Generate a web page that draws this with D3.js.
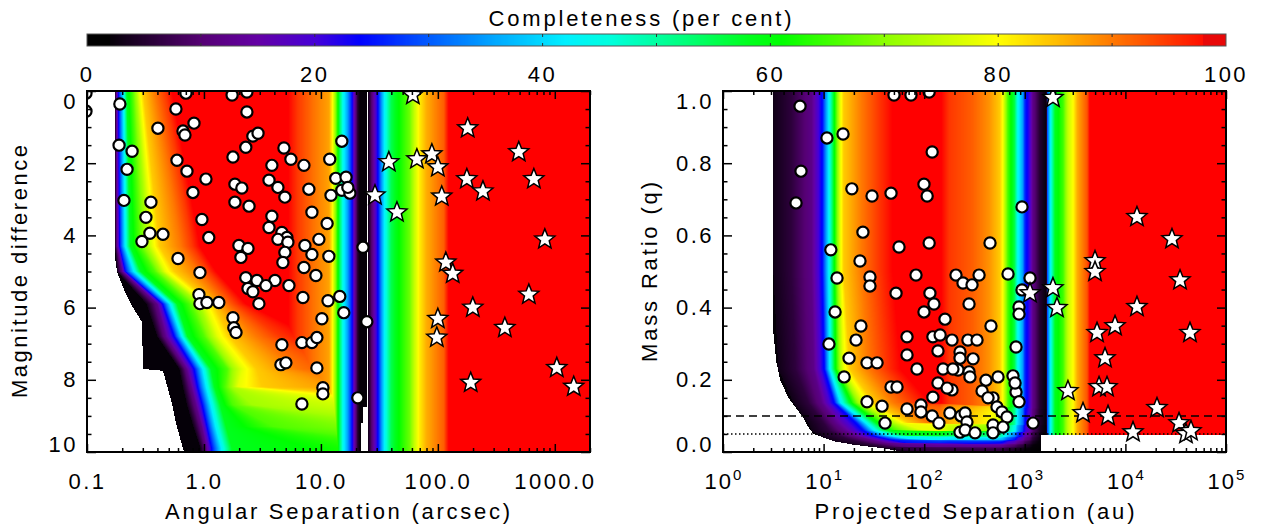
<!DOCTYPE html>
<html>
<head>
<meta charset="utf-8">
<script src="https://cdn.jsdelivr.net/npm/d3@7"></script>
<style>
  body { margin: 0; background: #fff; }
  svg text { font-family: "Liberation Sans", Arial, sans-serif; fill: #000; }
</style>
</head>
<body>
<svg id="chart" width="1262" height="529"></svg>
<script>
// ---------------- colour scale (completeness, per cent) ----------------
const cmapStops  = [0, 2, 6, 10, 15, 20, 24, 30, 36, 42, 46, 52, 58, 61, 70, 80, 85, 90, 95, 99, 100];
const cmapColors = ["#000000","#050008","#2d003c","#550073","#6400a5","#4600d7","#0000ff","#005aff",
                    "#00aaff","#00f0ff","#00ffdc","#00ff82","#00ff1e","#00ff00","#8cff00","#ffff00",
                    "#ffbe00","#ff7800","#ff3700","#ff0000","#ff0000"];
const colorbarTicks = [0, 20, 40, 60, 80, 100];

// ---------------- axis ticks ----------------
const sepMajor = [0.1, 1, 10, 100, 1000];
const sepLabels = ["0.1", "1.0", "10.0", "100.0", "1000.0"];
const dmMajor = [0, 2, 4, 6, 8, 10];
const auMajor = [1, 10, 100, 1000, 10000, 100000];
const auExponents = ["0", "1", "2", "3", "4", "5"];
const qMajor = [0, 0.2, 0.4, 0.6, 0.8, 1.0];

// ---------------- left panel: completeness map (angular separation vs magnitude difference) ----------------
// completeness levels and, for each magnitude-difference row, log10(separation / arcsec) where each level is reached
const leftLevels = [3, 12, 25, 42, 58, 66, 72, 78, 84, 90, 95, 100];
const leftRowDm = [0, 4.3, 5.0, 5.9, 6.8, 7.7, 8.2, 8.7, 9.3, 9.9, 10];
const leftRowLogSep = [
  [-0.761, -0.75, -0.73, -0.69, -0.66, -0.61, -0.58, -0.555, -0.52, -0.42, -0.33, -0.26],
  [-0.761, -0.745, -0.72, -0.675, -0.63, -0.55, -0.49, -0.44, -0.38, -0.2, -0.1, -0.02],
  [-0.744, -0.70, -0.67, -0.60, -0.54, -0.42, -0.37, -0.33, -0.25, -0.06, 0.04, 0.12],
  [-0.49, -0.40, -0.35, -0.29, -0.23, -0.12, -0.04, 0.01, 0.08, 0.18, 0.28, 0.38],
  [-0.40, -0.33, -0.25, -0.19, -0.14, 0.0, 0.06, 0.12, 0.22, 0.45, 0.65, 1.0],
  [-0.21, -0.15, -0.08, -0.01, 0.06, 0.2, 0.25, 0.33, 0.45, 0.8, 1.3, 1.8],
  [-0.18, -0.11, -0.05, 0.02, 0.09, 0.18, 0.24, 0.29, 0.5, 1.5, 2.5, 3.5],
  [-0.145, -0.07, -0.01, 0.06, 0.14, 0.25, 0.42, 1.6, 2.5, 3.0, 3.5, 4.0],
  [-0.09, -0.02, 0.03, 0.1, 0.19, 0.6, 1.8, 2.5, 3.0, 3.5, 4.0, 4.5],
  [-0.03, 0.02, 0.07, 0.15, 0.24, 2.0, 2.5, 3.0, 3.5, 4.0, 4.5, 5.0],
  [-0.03, 0.02, 0.07, 0.15, 0.24, 2.0, 2.5, 3.0, 3.5, 4.0, 4.5, 5.0]
];
// inner limit of the survey (no data to the left)
const leftEdgeDm = [0, 4.6, 5.0, 5.5, 6.0, 6.4, 7.7, 7.75, 8.7, 9.2, 10];
const leftEdgeLogSep = [-0.761, -0.761, -0.744, -0.684, -0.607, -0.53, -0.521, -0.35, -0.27, -0.24, -0.171];
// separation-only band structure at wide separations
const leftBandLogSep = [0.70, 0.80, 0.95, 1.07, 1.10, 1.13, 1.16, 1.19, 1.23, 1.265, 1.29, 1.315, 1.335, 1.39,
                        1.41, 1.45, 1.49, 1.52, 1.55, 1.6, 1.68, 1.76, 1.80, 1.84, 1.90, 2.05, 2.08, 2.1];
const leftBandValue = [100, 95, 90, 87, 80, 68, 55, 44, 35, 25, 14, 5, 2, 2,
                       4, 14, 25, 35, 44, 55, 62, 68, 75, 81, 86, 92, 97, 100];
const leftGapDm = [0, 8.75, 9.2];
const leftGapStart = [1.392, 1.36, 1.345];
const leftGapEnd = 1.405;

// ---------------- right panel: completeness map (projected separation vs mass ratio) ----------------
const rightLevels = [3, 6, 12, 25, 42, 58, 66, 72, 78, 84, 90, 95, 100];
const rightRowQ = [0, 0.005, 0.015, 0.025, 0.035, 0.045, 0.06, 0.08, 0.136, 0.23, 0.5, 1.0];
const rightRowLogAu = [
  [1.7, 1.9, null, null, null, null, null, null, null, null, null, null, null],
  [1.7, 1.9, null, null, null, null, null, null, null, null, null, null, null],
  [1.42, 1.6, 1.85, null, null, null, null, null, null, null, null, null, null],
  [1.17, 1.4, 1.6, 1.85, null, null, null, null, null, null, null, null, null],
  [1.04, 1.25, 1.45, 1.65, 1.9, null, null, null, null, null, null, null, null],
  [0.96, 1.15, 1.3, 1.5, 1.65, 1.85, null, null, null, null, null, null, null],
  [0.88, 1.05, 1.2, 1.4, 1.5, 1.62, 1.72, 1.85, 2.0, null, null, null, null],
  [0.85, 1.0, 1.12, 1.33, 1.42, 1.52, 1.6, 1.68, 1.76, 1.85, 2.05, null, null],
  [0.70, 0.85, 0.98, 1.11, 1.17, 1.26, 1.31, 1.35, 1.41, 1.5, 1.7, 1.9, 2.1],
  [0.55, 0.72, 0.90, 1.01, 1.06, 1.11, 1.14, 1.165, 1.2, 1.26, 1.45, 1.62, 1.8],
  [0.50, 0.68, 0.88, 0.99, 1.05, 1.10, 1.125, 1.145, 1.165, 1.2, 1.38, 1.55, 1.72],
  [0.50, 0.68, 0.88, 0.99, 1.05, 1.10, 1.125, 1.145, 1.165, 1.2, 1.38, 1.55, 1.72]
];
const rightEdgeQ = [0, 0.01, 0.02, 0.03, 0.04, 0.05, 0.07, 0.097, 0.12, 0.15, 0.2, 0.25, 0.34, 1.0];
const rightEdgeLogAu = [1.8, 1.6, 1.3, 1.1, 1.0, 0.9, 0.845, 0.795, 0.73, 0.65, 0.567, 0.53, 0.497, 0.497];
const rightBandLogAu = [2.15, 2.25, 2.48, 2.65, 2.75, 2.78, 2.83, 2.9, 2.93, 2.98, 3.0, 3.05, 3.08, 3.15, 3.215,
                        3.222, 3.24, 3.26, 3.3, 3.38, 3.43, 3.48, 3.52, 3.62, 3.65];
const rightBandValue = [100, 95, 92, 88, 84, 80, 66, 55, 44, 35, 27, 20, 12, 5, 2,
                        28, 36, 45, 58, 65, 75, 80, 86, 93, 100];
const rightJumpLogAu = 3.22;
const rightStripLogAu = 3.16;
const rightStripQ = 0.048;
const qDashed = 0.1;
const qDotted = 0.05;

// ---------------- companions ----------------
const leftCircleSep = [0.098,0.098,0.191,0.576,0.702,1.74,2.33,2.33,0.404,0.822,
  0.662,0.688,2.62,2.90,0.188,0.243,2.28,4.83,5.54,1.77,
  0.588,3.81,7.16,11.9,0.220,0.716,1.04,1.84,2.11,3.60,
  4.29,4.92,7.89,12.2,0.805,0.207,0.352,1.84,2.43,8.38,
  0.319,0.961,3.81,3.60,11.3,4.64,5.12,4.29,5.22,4.92,
  4.73,9.61,0.345,0.446,0.295,1.10,1.99,2.38,2.07,7.30,
  8.38,11.7,0.600,0.924,7.16,2.28,2.84,4.05,9.06,3.39,
  5.33,2.38,2.62,0.906,0.924,1.06,1.34,2.95,7.02,11.5,
  1.77,1.80,1.88,10.2,4.64,6.88,8.38,9.24,4.55,5.02,
  9.24,10.4,10.4,6.88,15.1,13.4,16.4,15.1,17.7,17.0,
  14.5,15.7,24.7,20.7,22.9];
const leftCircleDm = [0.06,0.56,0.36,0.5,0.06,0.11,0.03,0.58,1.03,0.89,
  1.11,1.22,1.25,1.17,1.5,1.67,1.56,1.58,1.89,1.83,
  1.92,2.06,2.06,1.89,2.17,2.22,2.44,2.58,2.69,2.47,
  2.67,2.94,2.72,2.89,2.81,3.03,3.08,3.08,3.19,3.36,
  3.5,3.56,3.47,3.78,3.67,3.92,4.06,4.11,4.19,4.47,
  4.75,4.11,3.94,3.97,4.17,4.06,4.28,4.36,4.61,4.28,
  4.53,4.58,4.64,5.03,4.89,5.17,5.25,5.25,5.11,5.39,
  5.39,5.47,5.56,5.64,5.89,5.86,5.86,5.89,5.72,5.81,
  6.28,6.56,6.69,6.31,7.03,6.97,6.97,6.83,7.58,7.53,
  7.67,8.22,8.39,8.67,1.39,2.42,2.39,2.75,2.83,2.67,
  5.69,6.14,6.39,8.5,4.33];
const leftStarSep = [61.1,38.1,66.2,88.9,100,180,177,243,108,29.0,44.7,492,662,822,117,134,600,199,100,98,374,191,1040,1452];
const leftStarDm = [0.11,1.97,1.89,1.75,2.11,1.03,2.44,2.78,2.92,2.89,3.36,1.69,2.44,4.11,4.75,5.06,5.64,6.0,6.31,6.83,6.56,8.08,7.67,8.19];

const rightCircleAu = [5.83,5.96,5.32,10.8,15.6,50.1,73.9,112,120,19.1,
  30.3,46.8,99.5,107,24.6,11.8,23.0,56.2,112,13.6,
  28.9,28.9,82.9,207,938,451,351,681,1127,52.5,
  13.0,114,125,99.5,161,23.5,21.0,11.3,67.5,122,
  189,17.9,27.0,34.0,67.5,137,227,16.0,84.8,154,
  217,46.8,53.7,137,122,189,27.0,38.1,67.5,92.9,
  92.9,120,180,140,40.8,232,227,243,299,938,
  279,876,876,461,144,272,335,818,306,227,
  193,279,285,411,542,763,169,376,483,818,
  876,431,529,593,665,255,266,255,320,483,
  483,607,1208,800];
const rightCircleQ = [0.958,0.778,0.690,0.870,0.881,0.989,0.989,0.997,0.831,0.729,
  0.709,0.717,0.742,0.709,0.609,0.560,0.529,0.568,0.579,0.482,
  0.485,0.460,0.490,0.490,0.679,0.579,0.490,0.493,0.482,0.440,
  0.388,0.440,0.410,0.388,0.368,0.349,0.310,0.299,0.319,0.319,
  0.310,0.260,0.247,0.247,0.269,0.280,0.277,0.208,0.230,0.230,
  0.227,0.180,0.180,0.191,0.152,0.172,0.139,0.127,0.119,0.130,
  0.111,0.100,0.108,0.080,0.080,0.100,0.055,0.468,0.463,0.449,
  0.410,0.402,0.382,0.349,0.324,0.310,0.310,0.291,0.258,0.260,
  0.230,0.222,0.208,0.199,0.208,0.211,0.177,0.169,0.150,0.166,
  0.139,0.150,0.125,0.111,0.097,0.108,0.083,0.061,0.053,0.075,
  0.053,0.069,0.080,0.191];
const rightStarAu = [1905,13030,29040,4988,4988,34910,1127,1905,2089,13030,7888,5224,43850,6270,5470,6565,2685,20610,3790,6718,34120,11900,40000,44870];
const rightStarQ = [0.981,0.651,0.590,0.529,0.499,0.476,0.440,0.454,0.399,0.402,0.349,0.330,0.330,0.260,0.180,0.180,0.169,0.122,0.108,0.100,0.080,0.055,0.050,0.058];

// ---------------- layout ----------------
const svg = d3.select("#chart");
const leftBox = {x0: 87, x1: 590, y0: 91, y1: 452};
const rightBox = {x0: 723, x1: 1226, y0: 91, y1: 452};
const bar = {x0: 87, x1: 1226, y0: 34, y1: 46};

const xL = d3.scaleLog().domain([0.1, 2000]).range([leftBox.x0, leftBox.x1]);
const yL = d3.scaleLinear().domain([0, 10]).range([leftBox.y0, leftBox.y1]);
const xR = d3.scaleLog().domain([1, 1e5]).range([rightBox.x0, rightBox.x1]);
const yR = d3.scaleLinear().domain([0, 1]).range([rightBox.y1, rightBox.y0]);
const xBar = d3.scaleLinear().domain([0, 100]).range([bar.x0, bar.x1]);

const cmap = d3.scaleLinear().domain(cmapStops).range(cmapColors).interpolate(d3.interpolateRgb).clamp(true);
const lut = d3.range(0, 1001).map(i => d3.rgb(cmap(i / 10)));

// ---------------- helpers ----------------
function lerpTable(xs, ys, x) {
  const n = xs.length;
  if (x <= xs[0]) return ys[0];
  if (x >= xs[n - 1]) return ys[n - 1];
  const i = d3.bisectRight(xs, x) - 1;
  const t = (x - xs[i]) / (xs[i + 1] - xs[i]);
  return ys[i] + (ys[i + 1] - ys[i]) * t;
}
function rowPositions(v, rowV, rowPos, far) {
  const n = rowV.length;
  let i = 0;
  while (i < n - 2 && v > rowV[i + 1]) i++;
  let t = (v - rowV[i]) / (rowV[i + 1] - rowV[i]);
  t = Math.max(0, Math.min(1, t));
  const a = rowPos[i], b = rowPos[i + 1];
  const p = a.map((_, k) => (a[k] ?? far) * (1 - t) + (b[k] ?? far) * t);
  for (let k = 1; k < p.length; k++) if (p[k] <= p[k - 1]) p[k] = p[k - 1] + 1e-4;
  return p;
}
function levelValue(u, p, levels) {
  if (u <= p[0]) return levels[0] - 1;
  for (let k = 0; k < p.length - 1; k++) {
    if (u < p[k + 1]) return levels[k] + (levels[k + 1] - levels[k]) * (u - p[k]) / (p[k + 1] - p[k]);
  }
  return levels[levels.length - 1];
}
function paintPanel(box, xScale, yScale, makeRow) {
  const w = box.x1 - box.x0, h = box.y1 - box.y0;
  const cv = document.createElement("canvas");
  cv.width = w; cv.height = h;
  const ctx = cv.getContext("2d");
  const img = ctx.createImageData(w, h);
  const us = d3.range(w).map(i => Math.log10(xScale.invert(box.x0 + i + 0.5)));
  for (let j = 0; j < h; j++) {
    const f = makeRow(yScale.invert(box.y0 + j + 0.5));
    for (let i = 0; i < w; i++) {
      const c = f(us[i]);
      const k = (j * w + i) * 4;
      if (c === null) {
        img.data[k] = img.data[k + 1] = img.data[k + 2] = 255;
      } else {
        const col = lut[Math.round(Math.max(0, Math.min(100, c)) * 10)];
        img.data[k] = col.r; img.data[k + 1] = col.g; img.data[k + 2] = col.b;
      }
      img.data[k + 3] = 255;
    }
  }
  ctx.putImageData(img, 0, 0);
  return cv.toDataURL();
}
function starPath(R, r) {
  const pts = d3.range(10).map(k => {
    const a = -Math.PI / 2 + k * Math.PI / 5;
    const rad = k % 2 === 0 ? R : r;
    return [rad * Math.cos(a), rad * Math.sin(a)];
  });
  return "M" + pts.map(p => p[0].toFixed(2) + "," + p[1].toFixed(2)).join("L") + "Z";
}
const STAR = starPath(10.5, 4.6);

// ---------------- colour bar ----------------
(function drawColorbar() {
  const w = bar.x1 - bar.x0;
  const cv = document.createElement("canvas");
  cv.width = w; cv.height = 1;
  const ctx = cv.getContext("2d");
  const img = ctx.createImageData(w, 1);
  for (let i = 0; i < w; i++) {
    const v = xBar.invert(bar.x0 + i + 0.5);
    let col = lut[Math.round(v * 10)];
    if (v < 2) col = {r: 0, g: 0, b: 0};
    if (v > 98) col = {r: 232, g: 8, b: 8};
    img.data[i * 4] = col.r; img.data[i * 4 + 1] = col.g; img.data[i * 4 + 2] = col.b; img.data[i * 4 + 3] = 255;
  }
  ctx.putImageData(img, 0, 0);
  svg.append("image").attr("x", bar.x0).attr("y", bar.y0).attr("width", w).attr("height", bar.y1 - bar.y0)
    .attr("preserveAspectRatio", "none").attr("href", cv.toDataURL());
  svg.append("rect").attr("x", bar.x0).attr("y", bar.y0).attr("width", w).attr("height", bar.y1 - bar.y0)
    .attr("fill", "none").attr("stroke", "#555").attr("stroke-width", 1);
  const minor = d3.range(10, 100, 10);
  svg.append("g").selectAll("line.t").data(minor).join("line")
    .attr("x1", d => xBar(d)).attr("x2", d => xBar(d)).attr("y1", bar.y0).attr("y2", bar.y0 + 3)
    .attr("stroke", "#333").attr("stroke-width", 1);
  svg.append("g").selectAll("line.b").data(minor).join("line")
    .attr("x1", d => xBar(d)).attr("x2", d => xBar(d)).attr("y1", bar.y1 - 3).attr("y2", bar.y1)
    .attr("stroke", "#333").attr("stroke-width", 1);
  svg.append("g").selectAll("text").data(colorbarTicks).join("text")
    .attr("x", d => xBar(d)).attr("y", 82).attr("text-anchor", "middle")
    .attr("font-size", 22).attr("letter-spacing", 2.5).text(d => d);
  svg.append("text").attr("x", 640).attr("y", 26).attr("text-anchor", "middle")
    .attr("font-size", 22).attr("textLength", 303).attr("lengthAdjust", "spacing")
    .text("Completeness (per cent)");
})();

// ---------------- heat maps ----------------
const leftMap = paintPanel(leftBox, xL, yL, dm => {
  const edge = lerpTable(leftEdgeDm, leftEdgeLogSep, dm);
  const gapStart = leftGapStart[Math.max(0, d3.bisectRight(leftGapDm, dm) - 1)];
  const p = rowPositions(dm, leftRowDm, leftRowLogSep, 5);
  return u => {
    if (u < edge) return null;
    if (u >= gapStart && u <= leftGapEnd) return null;
    const band = lerpTable(leftBandLogSep, leftBandValue, u);
    if (u > leftGapEnd) return band;
    return Math.min(levelValue(u, p, leftLevels), band);
  };
});
const rightMap = paintPanel(rightBox, xR, yR, q => {
  const edge = lerpTable(rightEdgeQ, rightEdgeLogAu, q);
  const p = rowPositions(q, rightRowQ, rightRowLogAu, 6);
  return u => {
    if (u < edge) return null;
    if (u > rightStripLogAu && q < rightStripQ) return null;
    const band = lerpTable(rightBandLogAu, rightBandValue, u);
    if (u >= rightJumpLogAu) return band;
    return levelValue(u, p, rightLevels) * band / 100;
  };
});

function panel(box, id, mapUrl) {
  const defs = svg.append("defs");
  defs.append("clipPath").attr("id", id).append("rect")
    .attr("x", box.x0).attr("y", box.y0).attr("width", box.x1 - box.x0).attr("height", box.y1 - box.y0);
  svg.append("image").attr("x", box.x0).attr("y", box.y0)
    .attr("width", box.x1 - box.x0).attr("height", box.y1 - box.y0)
    .attr("preserveAspectRatio", "none").attr("href", mapUrl);
  return svg.append("g").attr("clip-path", `url(#${id})`);
}

// left panel marks
const gL = panel(leftBox, "clipL", leftMap);
gL.selectAll("circle").data(d3.zip(leftCircleSep, leftCircleDm)).join("circle")
  .attr("cx", d => xL(d[0])).attr("cy", d => yL(d[1])).attr("r", 5.6)
  .attr("fill", "#fff").attr("stroke", "#000").attr("stroke-width", 2.2);
gL.selectAll("path.star").data(d3.zip(leftStarSep, leftStarDm)).join("path").attr("class", "star")
  .attr("transform", d => `translate(${xL(d[0])},${yL(d[1])})`).attr("d", STAR)
  .attr("fill", "#fff").attr("stroke", "#000").attr("stroke-width", 1.5).attr("stroke-linejoin", "miter");

// right panel marks
const gR = panel(rightBox, "clipR", rightMap);
gR.append("line").attr("x1", rightBox.x0).attr("x2", rightBox.x1).attr("y1", yR(qDashed)).attr("y2", yR(qDashed))
  .attr("stroke", "#000").attr("stroke-width", 1.5).attr("stroke-dasharray", "8,5");
gR.append("line").attr("x1", rightBox.x0).attr("x2", rightBox.x1).attr("y1", yR(qDotted)).attr("y2", yR(qDotted))
  .attr("stroke", "#000").attr("stroke-width", 1.5).attr("stroke-dasharray", "1.5,2.5");
gR.selectAll("circle").data(d3.zip(rightCircleAu, rightCircleQ)).join("circle")
  .attr("cx", d => xR(d[0])).attr("cy", d => yR(d[1])).attr("r", 5.6)
  .attr("fill", "#fff").attr("stroke", "#000").attr("stroke-width", 2.2);
gR.selectAll("path.star").data(d3.zip(rightStarAu, rightStarQ)).join("path").attr("class", "star")
  .attr("transform", d => `translate(${xR(d[0])},${yR(d[1])})`).attr("d", STAR)
  .attr("fill", "#fff").attr("stroke", "#000").attr("stroke-width", 1.5);

// ---------------- axes ----------------
function logMinors(lo, hi) {
  const out = [];
  for (let e = Math.floor(Math.log10(lo)); e <= Math.ceil(Math.log10(hi)); e++) {
    for (let m = 2; m <= 9; m++) {
      const v = m * Math.pow(10, e);
      if (v >= lo * 0.999 && v <= hi * 1.001) out.push(v);
    }
  }
  return out;
}
function styleAxis(g) {
  g.select(".domain").remove();
  g.attr("font-family", null).attr("font-size", 22).attr("color", "#000");
  g.selectAll("line").attr("stroke-width", 1.5);
  g.selectAll("text").attr("letter-spacing", 2.5);
}
function frameAxes(box, x, y, xMaj, xMin, yMaj, yMin, xFmt, yFmt) {
  const ax = svg.append("g");
  ax.append("g").attr("transform", `translate(0,${box.y1})`)
    .call(d3.axisBottom(x).tickValues(xMaj).tickSize(-8).tickPadding(21).tickFormat(xFmt)).call(styleAxis);
  ax.append("g").attr("transform", `translate(0,${box.y1})`)
    .call(d3.axisBottom(x).tickValues(xMin).tickSize(-4).tickFormat("")).call(styleAxis);
  ax.append("g").attr("transform", `translate(0,${box.y0})`)
    .call(d3.axisTop(x).tickValues(xMaj).tickSize(-8).tickFormat("")).call(styleAxis);
  ax.append("g").attr("transform", `translate(0,${box.y0})`)
    .call(d3.axisTop(x).tickValues(xMin).tickSize(-4).tickFormat("")).call(styleAxis);
  const yl = ax.append("g").attr("transform", `translate(${box.x0},0)`)
    .call(d3.axisLeft(y).tickValues(yMaj).tickSize(-9).tickPadding(9).tickFormat(yFmt)).call(styleAxis);
  ax.append("g").attr("transform", `translate(${box.x0},0)`)
    .call(d3.axisLeft(y).tickValues(yMin).tickSize(-4.5).tickFormat("")).call(styleAxis);
  ax.append("g").attr("transform", `translate(${box.x1},0)`)
    .call(d3.axisRight(y).tickValues(yMaj).tickSize(-9).tickFormat("")).call(styleAxis);
  ax.append("g").attr("transform", `translate(${box.x1},0)`)
    .call(d3.axisRight(y).tickValues(yMin).tickSize(-4.5).tickFormat("")).call(styleAxis);
  // keep the end labels inside the axis span
  yl.selectAll(".tick text").attr("transform", d => {
    const py = y(d);
    if (Math.abs(py - box.y0) < 1) return "translate(0,10)";
    if (Math.abs(py - box.y1) < 1) return "translate(0,-8)";
    return null;
  });
  ax.append("rect").attr("x", box.x0).attr("y", box.y0).attr("width", box.x1 - box.x0).attr("height", box.y1 - box.y0)
    .attr("fill", "none").attr("stroke", "#000").attr("stroke-width", 2);
  return ax;
}

const dmMinor = d3.range(0, 10.01, 0.5).filter(v => v % 2 !== 0);
const qMinor = d3.range(0, 1.001, 0.05).filter(v => Math.abs(v * 5 - Math.round(v * 5)) > 1e-6);

frameAxes(leftBox, xL, yL, sepMajor, logMinors(0.1, 2000), dmMajor, dmMinor,
  (d, i) => sepLabels[i], d => d3.format("d")(d));
frameAxes(rightBox, xR, yR, auMajor, logMinors(1, 1e5), qMajor, qMinor,
  () => "", d => d3.format(".1f")(d));

// power-of-ten labels on the projected separation axis
const pw = svg.append("g");
auMajor.forEach((v, i) => {
  const t = pw.append("text").attr("x", xR(v)).attr("y", 489).attr("text-anchor", "middle").attr("font-size", 22);
  t.append("tspan").attr("letter-spacing", 2).text("10");
  t.append("tspan").attr("dy", -9).attr("font-size", 15).text(auExponents[i]);
});

// axis titles
svg.append("text").attr("x", (leftBox.x0 + leftBox.x1) / 2 - 1).attr("y", 519).attr("text-anchor", "middle")
  .attr("font-size", 22).attr("textLength", 345).attr("lengthAdjust", "spacing").text("Angular Separation (arcsec)");
svg.append("text").attr("x", (rightBox.x0 + rightBox.x1) / 2).attr("y", 519).attr("text-anchor", "middle")
  .attr("font-size", 22).attr("textLength", 320).attr("lengthAdjust", "spacing").text("Projected Separation (au)");
svg.append("text").attr("transform", "translate(27,271.5) rotate(-90)").attr("text-anchor", "middle")
  .attr("font-size", 22).attr("textLength", 253).attr("lengthAdjust", "spacing").text("Magnitude difference");
svg.append("text").attr("transform", "translate(657,272) rotate(-90)").attr("text-anchor", "middle")
  .attr("font-size", 22).attr("textLength", 180).attr("lengthAdjust", "spacing").text("Mass Ratio (q)");
</script>
</body>
</html>
